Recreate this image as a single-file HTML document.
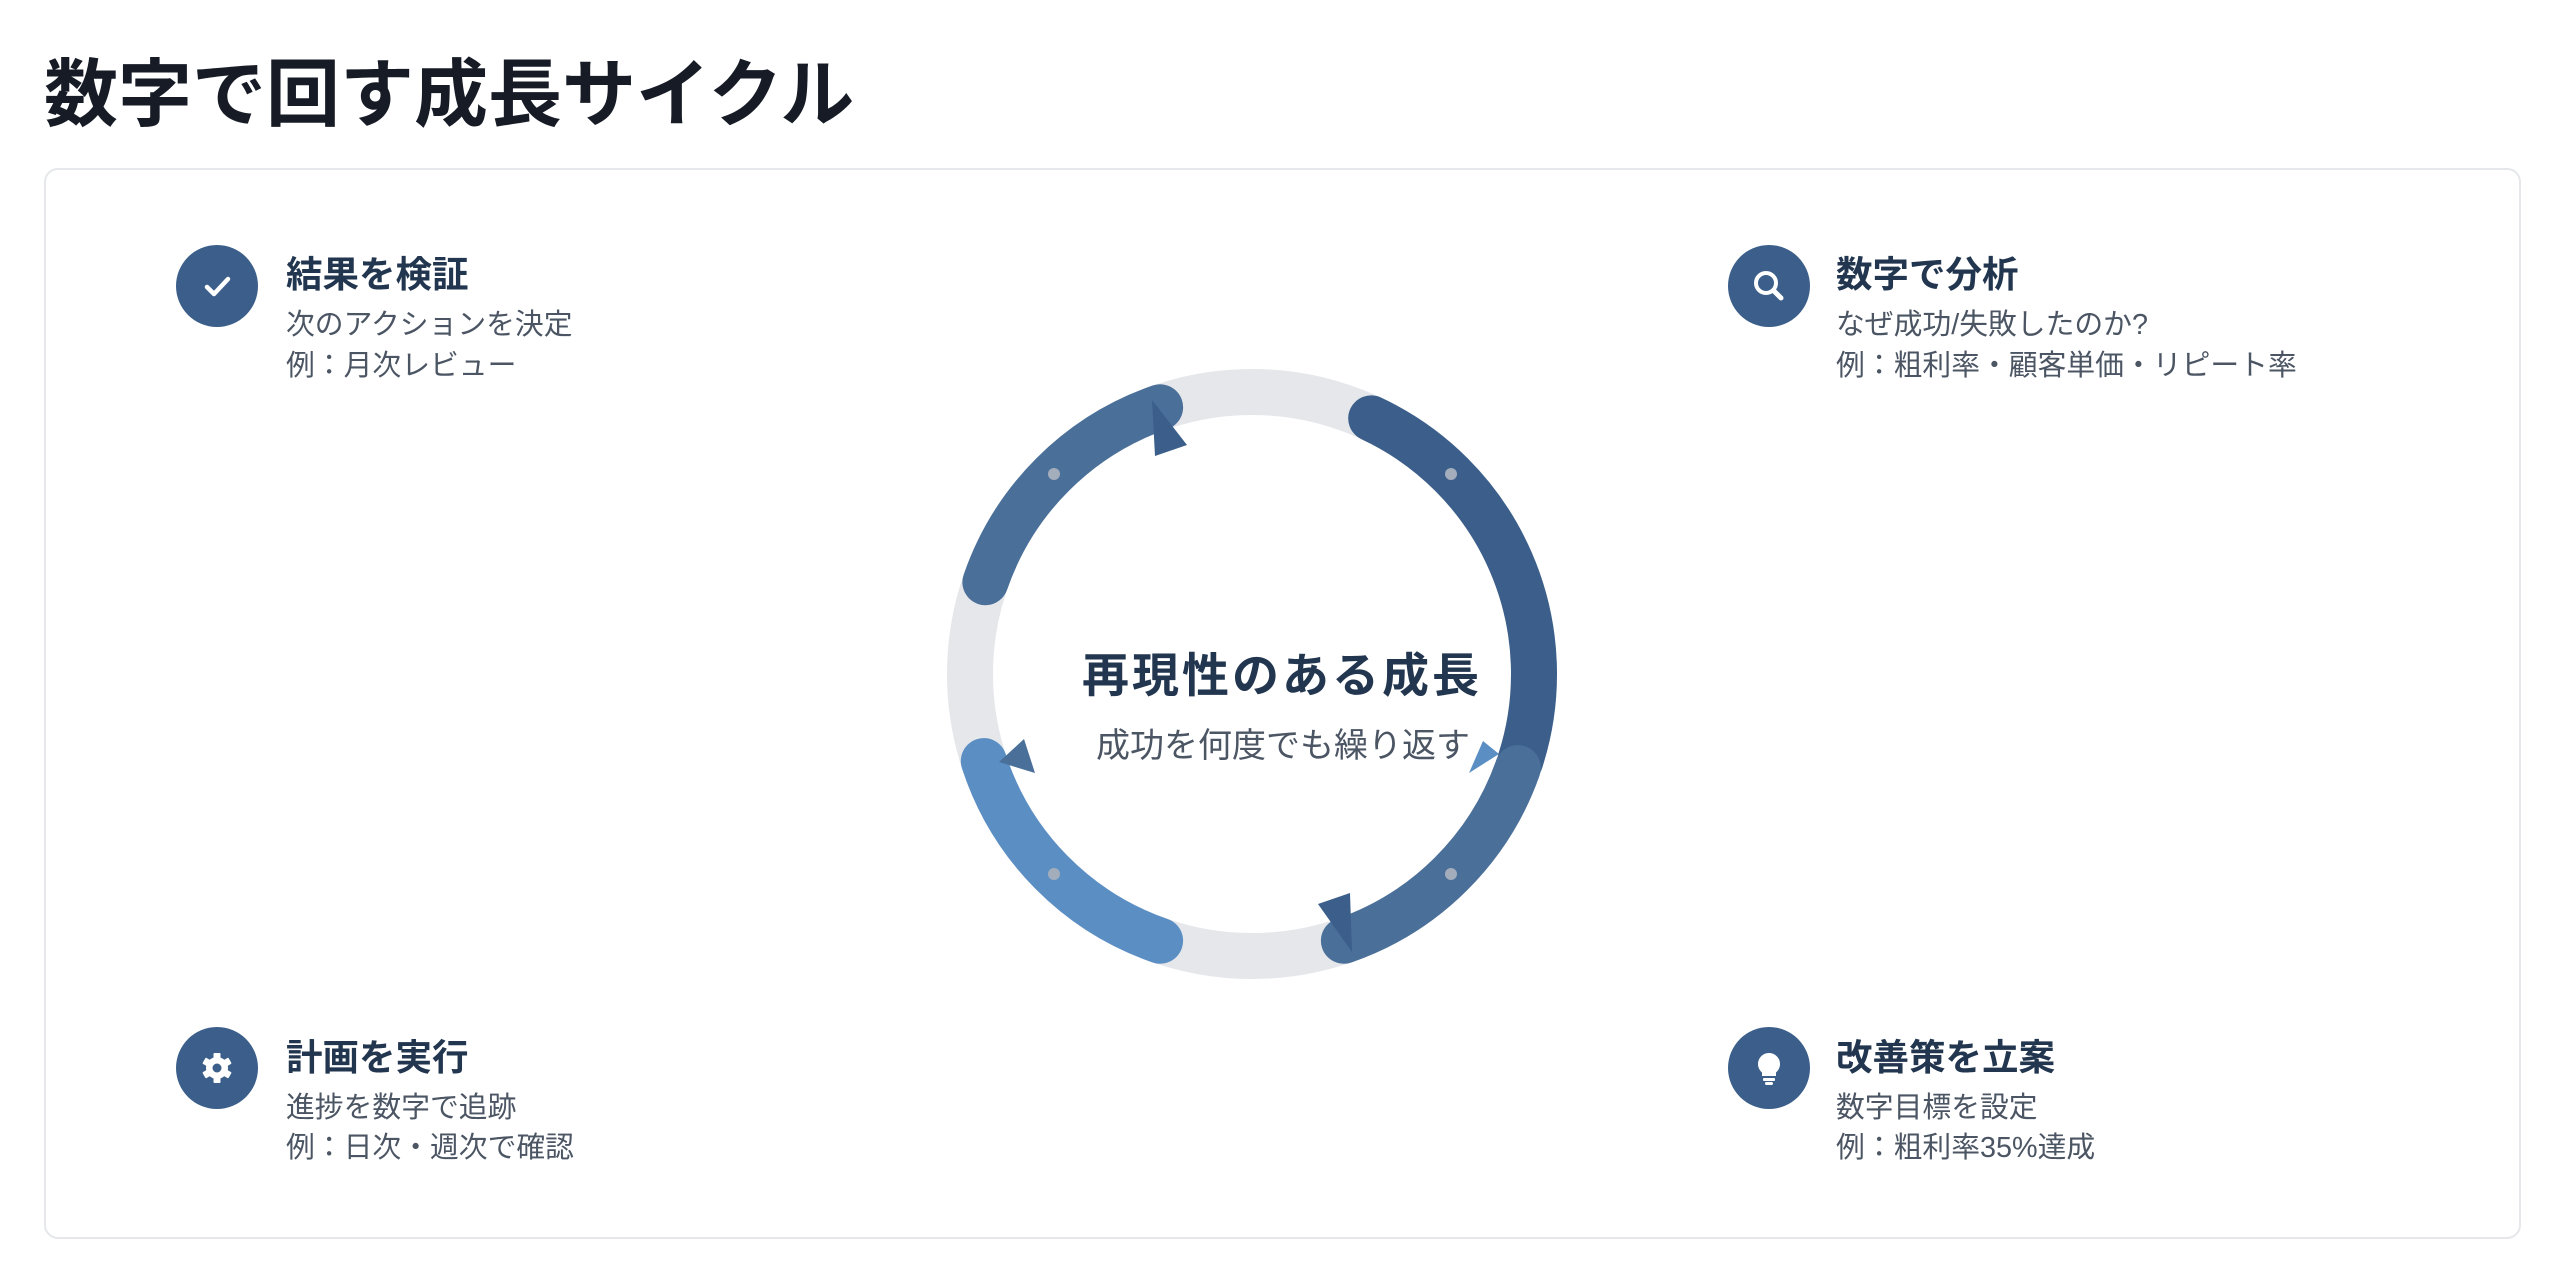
<!DOCTYPE html>
<html><head><meta charset="utf-8"><style>
body{margin:0;width:2560px;height:1286px;background:#fff;position:relative;overflow:hidden;font-family:"Liberation Sans","Noto Sans CJK JP",sans-serif}
.a{position:absolute;white-space:nowrap;line-height:1}
.card{position:absolute;left:44px;top:168px;width:2477px;height:1071px;border:2px solid #e5e7eb;border-radius:14px;box-sizing:border-box}
.ic{position:absolute;width:82px;height:82px;border-radius:50%;background:#3b5f8a}
.ic svg{position:absolute;left:19px;top:19px}
.t{font-size:36.5px;font-weight:bold;color:#22364f}
.l{font-size:28.8px;color:#4b5563}
</style></head><body>
<div class="a" style="left:44px;top:58px;font-size:74px;font-weight:bold;color:#161b26">数字で回す成長サイクル</div>
<div class="card"></div>

<svg width="2560" height="1286" style="position:absolute;left:0;top:0">
<circle cx="1252" cy="674" r="282" fill="none" stroke="#e5e7eb" stroke-width="46"/>
<g fill="none" stroke-width="46" stroke-linecap="round">
<path d="M1371.2 418.4 A282 282 0 0 1 1520.2 761.1" stroke="#3b5f8a"/>
<path d="M1517.8 768.1 A282 282 0 0 1 1343.9 940.7" stroke="#4a6f99"/>
<path d="M985.4 582.2 A282 282 0 0 1 1160.1 407.3" stroke="#4a6f99"/>
<path d="M983.8 761.1 A282 282 0 0 0 1160.1 940.7" stroke="#5b8fc4"/>
</g>
<polygon points="1152,400 1187,445 1155,456" fill="#3b5f8a"/>
<polygon points="1483,741 1499,754 1469,773" fill="#5b8fc4"/>
<polygon points="1318,904 1350,893 1352,952" fill="#3b5f8a"/>
<polygon points="1024,739 1035,773 999,762" fill="#4a6f99"/>
<g fill="#a3adbb"><circle cx="1054" cy="474" r="6"/><circle cx="1451" cy="474" r="6"/><circle cx="1054" cy="874" r="6"/><circle cx="1451" cy="874" r="6"/></g>
</svg>

<div class="a" style="left:1080px;top:652px;width:404px;text-align:center;font-size:47px;font-weight:bold;color:#22364f;letter-spacing:3px">再現性のある成長</div>
<div class="a" style="left:1080px;top:729px;width:406px;text-align:center;font-size:34px;color:#4b5563;letter-spacing:0px">成功を何度でも繰り返す</div>

<div class="ic" style="left:176px;top:245px"><svg width="44" height="44" viewBox="0 0 44 44"><path d="M12 23 L19 30 L33 15" fill="none" stroke="#fff" stroke-width="4.5" stroke-linecap="round" stroke-linejoin="round"/></svg></div>
<div class="a t" style="left:286px;top:257px">結果を検証</div>
<div class="a l" style="left:286px;top:311px">次のアクションを決定</div>
<div class="a l" style="left:286px;top:352px">例：月次レビュー</div>

<div class="ic" style="left:1728px;top:245px"><svg width="44" height="44" viewBox="0 0 44 44"><circle cx="19" cy="19" r="10" fill="none" stroke="#fff" stroke-width="4"/><path d="M27 27 L34 34" stroke="#fff" stroke-width="5" stroke-linecap="round"/></svg></div>
<div class="a t" style="left:1836px;top:257px">数字で分析</div>
<div class="a l" style="left:1836px;top:311px">なぜ成功/失敗したのか?</div>
<div class="a l" style="left:1836px;top:352px">例：粗利率・顧客単価・リピート率</div>

<div class="ic" style="left:176px;top:1027px"><svg width="44" height="44" viewBox="0 0 44 44"><g fill="#fff"><circle cx="22" cy="22" r="11"/><rect x="18.5" y="7" width="7" height="30" rx="1"/><rect x="18.5" y="7" width="7" height="30" rx="1" transform="rotate(60 22 22)"/><rect x="18.5" y="7" width="7" height="30" rx="1" transform="rotate(120 22 22)"/></g><circle cx="22" cy="22" r="4.5" fill="#3b5f8a"/></svg></div>
<div class="a t" style="left:286px;top:1040px">計画を実行</div>
<div class="a l" style="left:286px;top:1094px">進捗を数字で追跡</div>
<div class="a l" style="left:286px;top:1134px">例：日次・週次で確認</div>

<div class="ic" style="left:1728px;top:1027px"><svg width="44" height="44" viewBox="0 0 44 44"><g fill="#fff"><path d="M22 7 a11 11 0 0 1 7 19.5 v3.5 h-14 v-3.5 a11 11 0 0 1 7 -19.5z"/><rect x="16" y="32" width="12" height="3" rx="1"/><rect x="18" y="36" width="8" height="3" rx="1.5"/></g></svg></div>
<div class="a t" style="left:1836px;top:1040px">改善策を立案</div>
<div class="a l" style="left:1836px;top:1094px">数字目標を設定</div>
<div class="a l" style="left:1836px;top:1134px">例：粗利率35%達成</div>
</body></html>
